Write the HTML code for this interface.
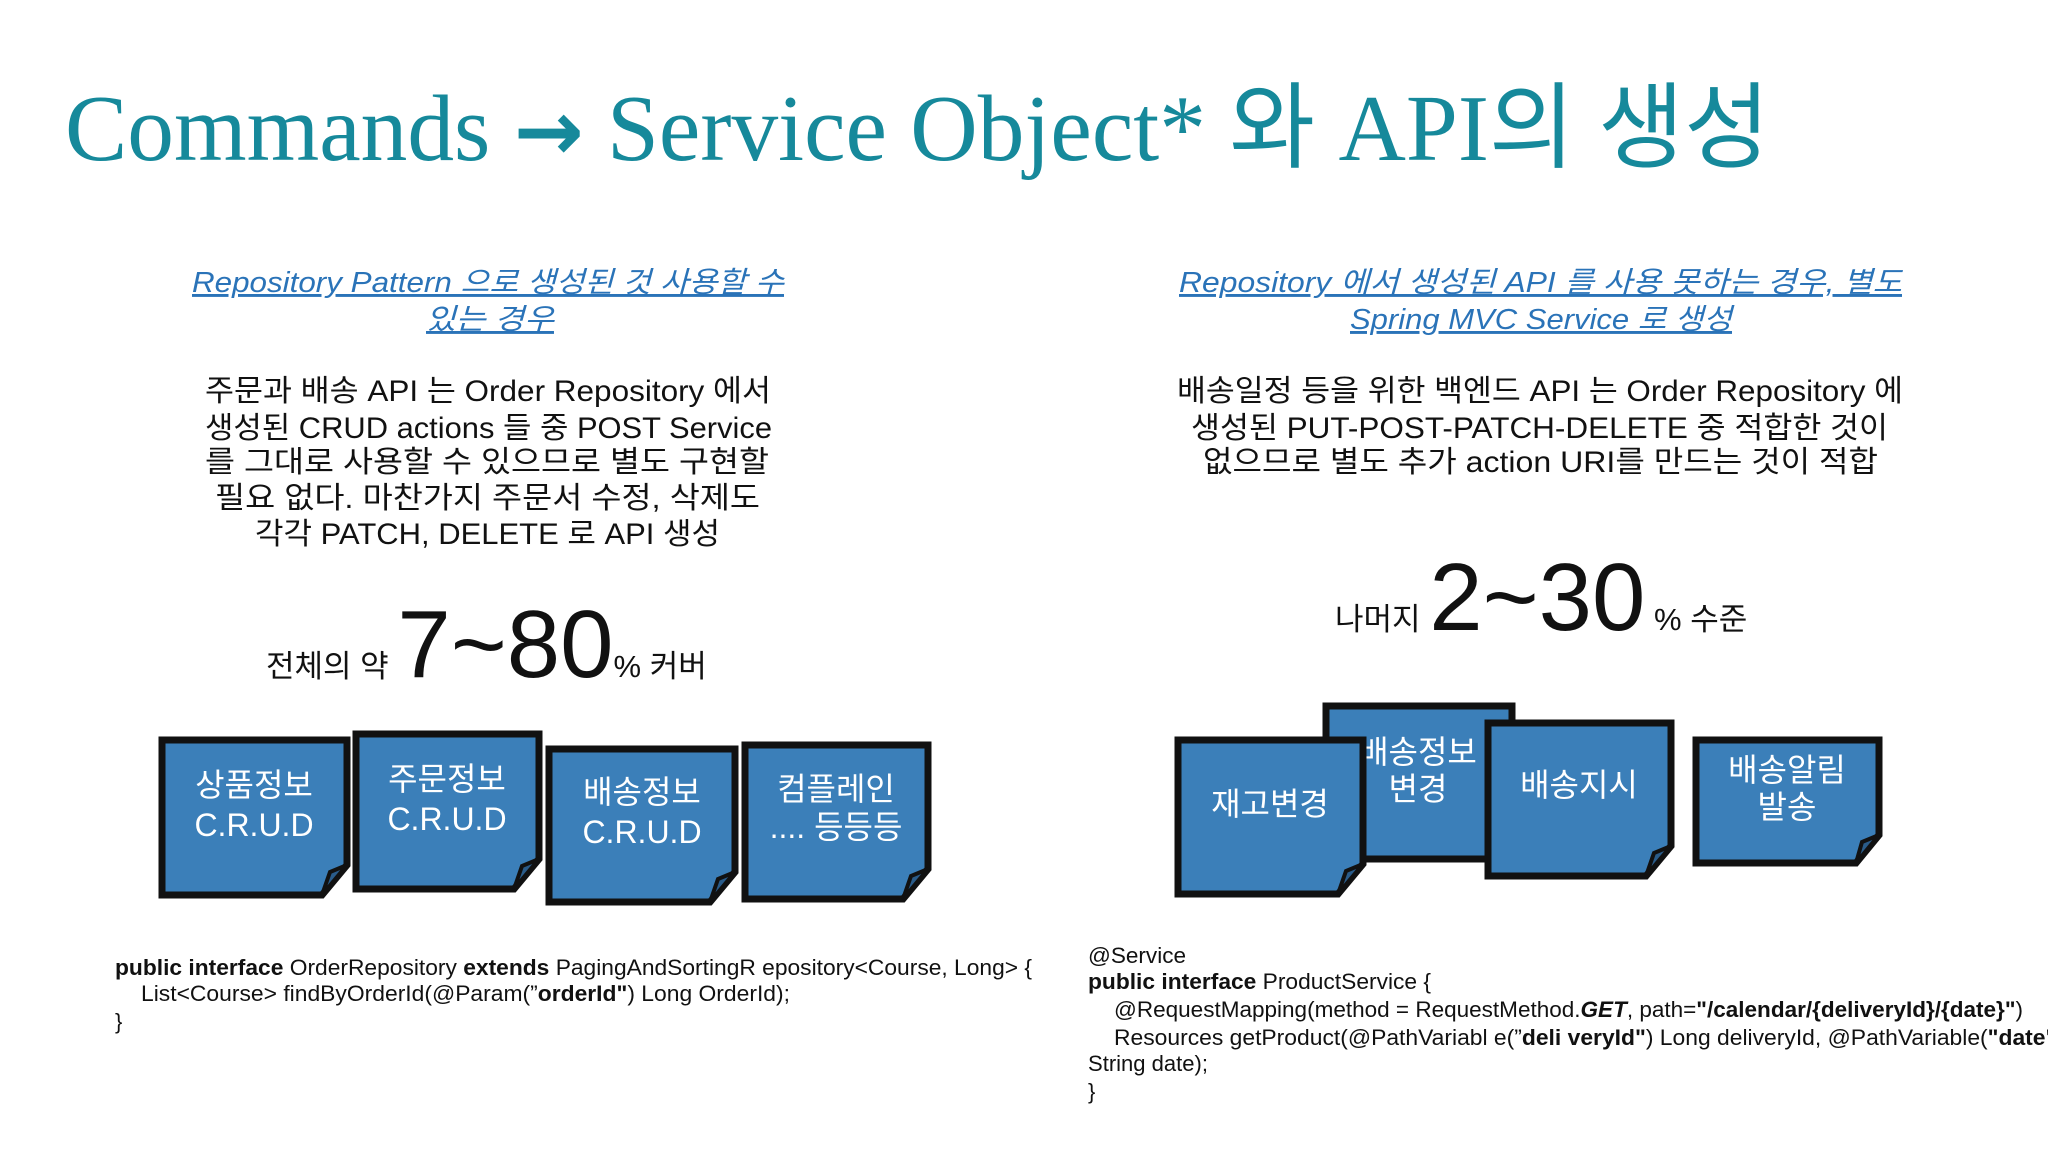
<!DOCTYPE html>
<html><head><meta charset="utf-8"><style>
html,body{margin:0;padding:0;background:#fff;}
svg{display:block}
.k{font-family:"Liberation Sans","Noto Sans CJK KR",sans-serif;}
.c{font-family:"Liberation Sans Narrow","Liberation Sans",sans-serif;font-size:22px;fill:#111;}
.sub{font-family:"Liberation Sans","Noto Sans CJK KR",sans-serif;font-size:29px;font-style:italic;fill:#2a73b8;text-decoration:underline;}
.body{font-family:"Liberation Sans","Noto Sans CJK KR",sans-serif;font-size:30px;fill:#111;}
.bl{font-family:"Liberation Sans","Noto Sans CJK KR",sans-serif;font-size:32px;fill:#fff;}
</style></head><body>
<svg width="2048" height="1152" viewBox="0 0 2048 1152" xmlns="http://www.w3.org/2000/svg">
<text x="65" y="160" textLength="1705" lengthAdjust="spacingAndGlyphs" style="font-family:'Liberation Serif','Noto Sans CJK KR',serif;font-size:94px;fill:#16899b">Commands <tspan style="font-family:'DejaVu Sans',sans-serif;font-weight:bold;font-size:84px">→</tspan> Service Object* 와 API의 생성</text>

<text class="sub" x="192" y="292" textLength="592" lengthAdjust="spacingAndGlyphs">Repository Pattern 으로 생성된 것 사용할 수</text>
<text class="sub" x="426" y="329" textLength="128" lengthAdjust="spacingAndGlyphs">있는 경우</text>
<text class="sub" x="1179" y="292" textLength="723" lengthAdjust="spacingAndGlyphs">Repository 에서 생성된 API 를 사용 못하는 경우, 별도</text>
<text class="sub" x="1350" y="329" textLength="382" lengthAdjust="spacingAndGlyphs">Spring MVC Service 로 생성</text>

<g class="body">
<text x="205" y="401" textLength="566" lengthAdjust="spacingAndGlyphs">주문과 배송 API 는 Order Repository 에서</text>
<text x="205" y="438" textLength="567" lengthAdjust="spacingAndGlyphs">생성된 CRUD actions 들 중 POST Service</text>
<text x="205" y="472" textLength="564" lengthAdjust="spacingAndGlyphs">를 그대로 사용할 수 있으므로 별도 구현할</text>
<text x="215" y="508" textLength="545" lengthAdjust="spacingAndGlyphs">필요 없다. 마찬가지 주문서 수정, 삭제도</text>
<text x="255" y="544" textLength="465" lengthAdjust="spacingAndGlyphs">각각 PATCH, DELETE 로 API 생성</text>
<text x="1177" y="401" textLength="726" lengthAdjust="spacingAndGlyphs">배송일정 등을 위한 백엔드 API 는 Order Repository 에</text>
<text x="1191" y="438" textLength="697" lengthAdjust="spacingAndGlyphs">생성된 PUT-POST-PATCH-DELETE 중 적합한 것이</text>
<text x="1203" y="472" textLength="675" lengthAdjust="spacingAndGlyphs">없으므로 별도 추가 action URI를 만드는 것이 적합</text>
</g>

<text class="k" x="266" y="677" style="font-size:31px;fill:#111">전체의 약 <tspan style="font-size:96px">7~80</tspan><tspan>% 커버</tspan></text>
<text class="k" x="1335" y="630" style="font-size:31px;fill:#111">나머지 <tspan style="font-size:96px">2~30</tspan><tspan> % 수준</tspan></text>

<g stroke="#111" stroke-width="7" stroke-linejoin="miter">
<path d="M162,740 H347 V865 L322,895 H162 Z" fill="#3b7fb9"/>
<path d="M322,895 L347,865 L330,872 Z" fill="#2a5c8a" stroke-width="4"/>
<path d="M356,734 H539 V859 L514,889 H356 Z" fill="#3b7fb9"/>
<path d="M514,889 L539,859 L522,866 Z" fill="#2a5c8a" stroke-width="4"/>
<path d="M549,749 H735 V872 L710,902 H549 Z" fill="#3b7fb9"/>
<path d="M710,902 L735,872 L718,879 Z" fill="#2a5c8a" stroke-width="4"/>
<path d="M745,745 H928 V869 L903,899 H745 Z" fill="#3b7fb9"/>
<path d="M903,899 L928,869 L911,876 Z" fill="#2a5c8a" stroke-width="4"/>
<path d="M1326,706 H1512 V829 L1487,859 H1326 Z" fill="#3b7fb9"/>
</g>
<g class="bl" text-anchor="middle">
<text x="254" y="796">상품정보</text><text x="254" y="836">C.R.U.D</text>
<text x="447" y="790">주문정보</text><text x="447" y="830">C.R.U.D</text>
<text x="642" y="803">배송정보</text><text x="642" y="843">C.R.U.D</text>
<text x="836" y="800">컴플레인</text><text x="836" y="838">.... 등등등</text>
<text x="1418" y="763">배송정보</text><text x="1418" y="800">변경</text>
</g>
<g stroke="#111" stroke-width="7">
<path d="M1178,740 H1363 V864 L1338,894 H1178 Z" fill="#3b7fb9"/>
<path d="M1338,894 L1363,864 L1346,871 Z" fill="#2a5c8a" stroke-width="4"/>
<path d="M1488,723 H1671 V846 L1646,876 H1488 Z" fill="#3b7fb9"/>
<path d="M1646,876 L1671,846 L1654,853 Z" fill="#2a5c8a" stroke-width="4"/>
<path d="M1696,740 H1879 V835 L1856,863 H1696 Z" fill="#3b7fb9"/>
<path d="M1856,863 L1879,835 L1862,842 Z" fill="#2a5c8a" stroke-width="4"/>
</g>
<g class="bl" text-anchor="middle">
<text x="1270" y="815">재고변경</text>
<text x="1579" y="796">배송지시</text>
<text x="1787" y="781">배송알림</text><text x="1787" y="818">발송</text>
</g>

<g class="c">
<text x="115" y="975" textLength="917" lengthAdjust="spacingAndGlyphs"><tspan font-weight="bold">public interface</tspan> OrderRepository  <tspan font-weight="bold">extends</tspan> PagingAndSortingR epository&lt;Course,   Long&gt; {</text>
<text x="141" y="1001" textLength="649" lengthAdjust="spacingAndGlyphs">List&lt;Course&gt; findByOrderId(@Param(”<tspan font-weight="bold">orderId"</tspan>)  Long  OrderId);</text>
<text x="115" y="1029">}</text>
</g>
<g class="c">
<text x="1088" y="963" textLength="98" lengthAdjust="spacingAndGlyphs">@Service</text>
<text x="1088" y="989" textLength="343" lengthAdjust="spacingAndGlyphs"><tspan font-weight="bold">public interface</tspan> ProductService {</text>
<text x="1114" y="1017" textLength="909" lengthAdjust="spacingAndGlyphs">@RequestMapping(method   = RequestMethod.<tspan font-weight="bold" font-style="italic">GET</tspan>,   path=<tspan font-weight="bold">"/calendar/{deliveryId}/{date}"</tspan>)</text>
<text x="1114" y="1045" textLength="950" lengthAdjust="spacingAndGlyphs">Resources  getProduct(@PathVariabl e(”<tspan font-weight="bold">deli veryId"</tspan>)   Long  deliveryId,  @PathVariable(<tspan font-weight="bold">"date"</tspan>)</text>
<text x="1088" y="1071" textLength="120" lengthAdjust="spacingAndGlyphs">String date);</text>
<text x="1088" y="1099">}</text>
</g>
</svg>
</body></html>
